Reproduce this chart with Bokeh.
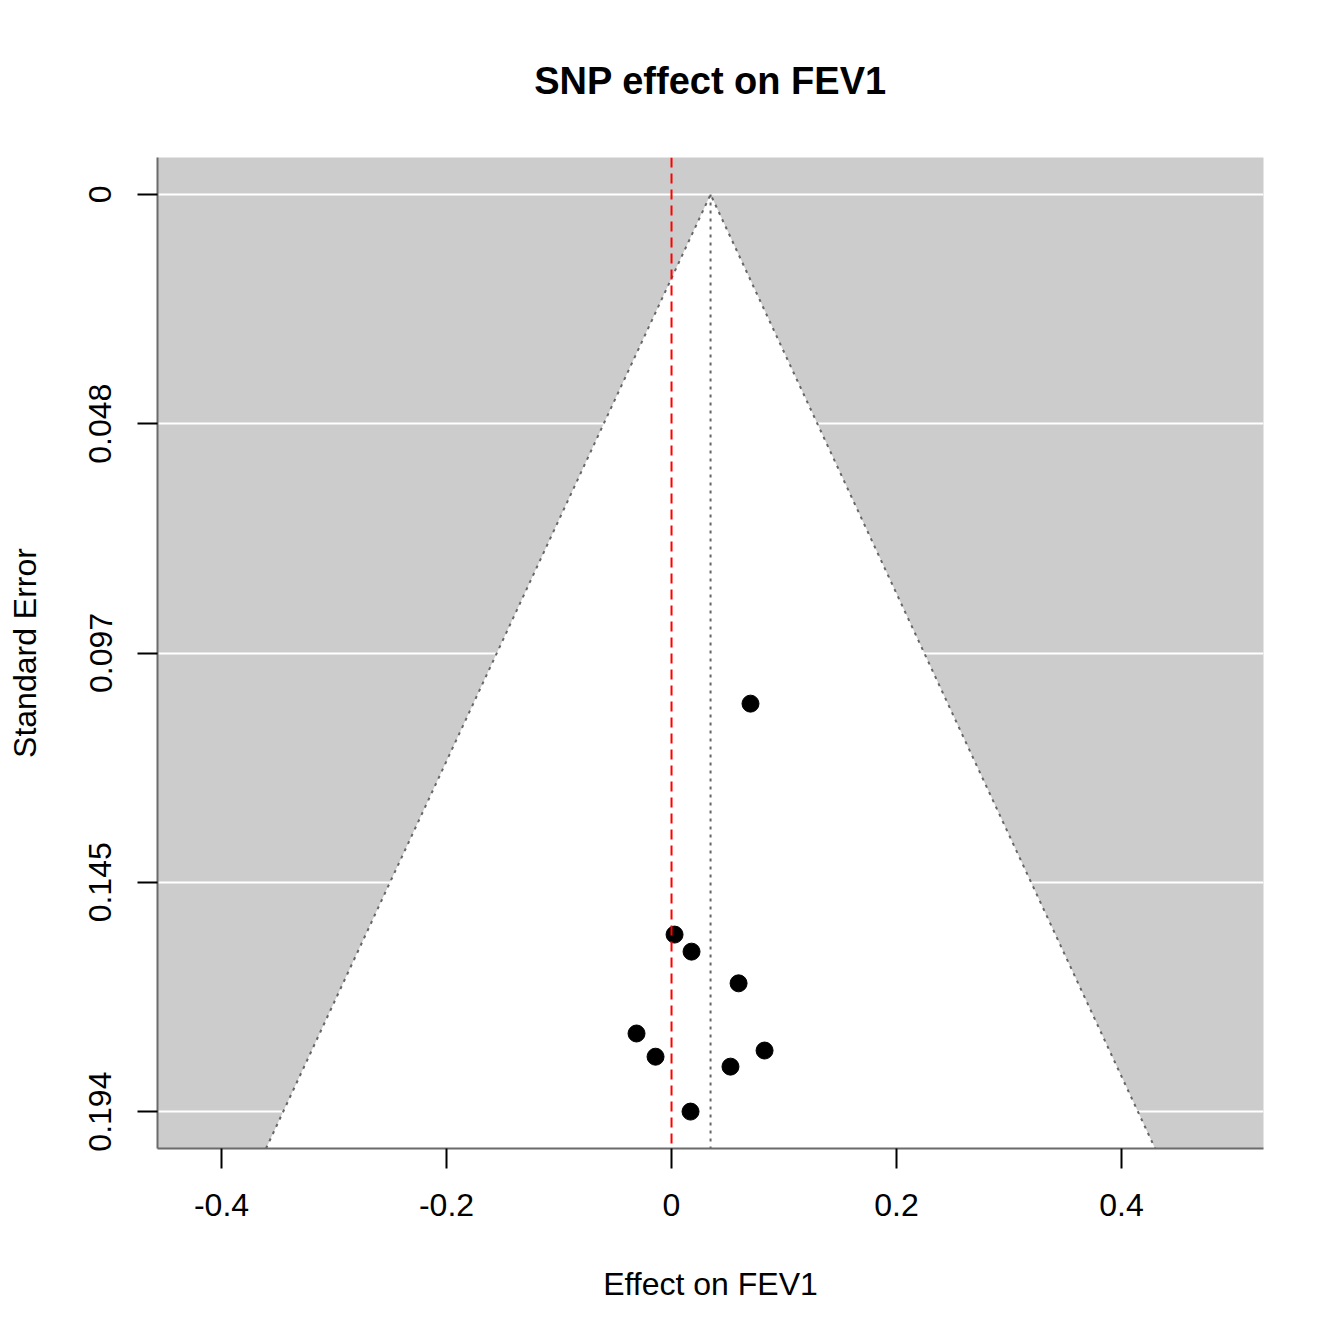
from bokeh.plotting import figure
from bokeh.models import Range1d, FixedTicker, Span
from bokeh.embed import file_html
from bokeh.resources import INLINE

# Per-SNP effect estimates on FEV1 and their standard errors
effects = [0.0702, 0.0027, 0.0178, 0.0596, -0.0311, 0.0827, -0.0142, 0.0524, 0.0169]
std_errors = [0.1076, 0.1564, 0.1600, 0.1667, 0.1773, 0.1809, 0.1822, 0.1843, 0.1938]

# Pooled (inverse-variance) estimate used as the funnel centre
pooled_effect = 0.0347

x_ticks = [-0.4, -0.2, 0.0, 0.2, 0.4]
x_tick_labels = ["-0.4", "-0.2", "0", "0.2", "0.4"]
y_ticks = [0.0, 0.04845, 0.0969, 0.14535, 0.1938]
y_tick_labels = ["0", "0.048", "0.097", "0.145", "0.194"]

x_lo, x_hi = -0.4569, 0.5262
se_top, se_bottom = -0.0078, 0.2016
z = 1.96

FONT = "Liberation Sans"

p = figure(
    frame_width=1106, frame_height=991,
    min_border_left=157, min_border_right=81,
    min_border_top=157, min_border_bottom=196,
    x_range=Range1d(x_lo, x_hi),
    y_range=Range1d(se_bottom, se_top),   # standard error grows downward
    output_backend="svg", toolbar_location=None,
    title="SNP effect on FEV1",
)

p.background_fill_color = "#CCCCCC"
p.border_fill_color = "white"
p.outline_line_color = None

# Title
p.title.align = "center"
p.title.text_font = FONT
p.title.text_font_size = "38px"
p.title.text_font_style = "bold"
p.title.text_color = "black"
p.title.standoff = 111

# Grid: horizontal white lines only
p.xgrid.visible = False
p.ygrid.ticker = FixedTicker(ticks=y_ticks)
p.ygrid.grid_line_color = "white"
p.ygrid.grid_line_width = 2

# Funnel: white pseudo-confidence region
funnel_xs = [pooled_effect - z * se_bottom, pooled_effect, pooled_effect + z * se_bottom]
funnel_ys = [se_bottom, 0.0, se_bottom]
p.patch(funnel_xs, funnel_ys, fill_color="white", line_color=None)

# Funnel edges and centre line (dotted)
p.line(funnel_xs, funnel_ys, line_color="#666666", line_width=2, line_dash="3 5")
p.line([pooled_effect, pooled_effect], [0.0, se_bottom],
       line_color="#666666", line_width=2, line_dash="3 5")

# Null-effect reference line
p.add_layout(Span(location=0.0, dimension="height", line_color="#FF0000",
                  line_width=2, line_dash="10 6"))

# Individual SNP estimates
p.scatter(effects, std_errors, size=17, color="black")

# Axes
for ax in (p.xaxis[0], p.yaxis[0]):
    ax.axis_line_color = "#6b6b6b"
    ax.axis_line_width = 2
    ax.major_tick_line_color = "black"
    ax.major_tick_line_width = 2
    ax.major_tick_out = 20
    ax.major_tick_in = 0
    ax.minor_tick_line_color = None
    ax.major_label_text_font = FONT
    ax.major_label_text_font_size = "32px"
    ax.major_label_text_color = "black"
    ax.axis_label_text_font = FONT
    ax.axis_label_text_font_size = "32px"
    ax.axis_label_text_font_style = "normal"
    ax.axis_label_text_color = "black"

p.xaxis.ticker = FixedTicker(ticks=x_ticks)
p.xaxis.major_label_overrides = dict(zip(x_ticks, x_tick_labels))
p.xaxis.major_label_standoff = 25
p.xaxis.axis_label = "Effect on FEV1"
p.xaxis.axis_label_standoff = 47

p.yaxis.ticker = FixedTicker(ticks=y_ticks)
p.yaxis.major_label_overrides = dict(zip(y_ticks, y_tick_labels))
p.yaxis.major_label_orientation = "vertical"
p.yaxis.major_label_standoff = 26
p.yaxis.axis_label = "Standard Error"
p.yaxis.axis_label_standoff = 44

open("out.html", "w").write(file_html(p, INLINE))
